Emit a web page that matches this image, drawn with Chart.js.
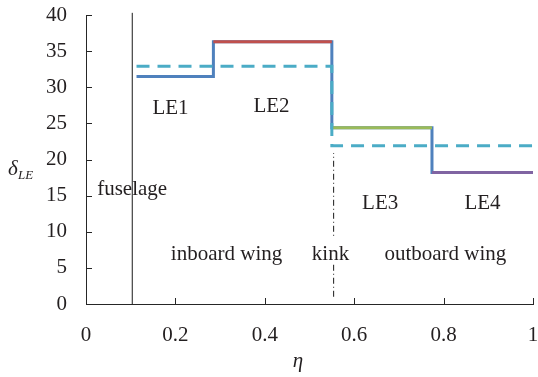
<!DOCTYPE html>
<html>
<head>
<meta charset="utf-8">
<script src="https://cdn.jsdelivr.net/npm/chart.js@4"></script>
<style>
  body { margin: 0; background: #fff; }
  #box { width: 538px; height: 377px; }
</style>
</head>
<body>
<div id="box"><canvas id="graph"></canvas></div>
<script>
// step distribution of leading edge deflection along the span
const stepEta   = [0.113, 0.285, 0.285, 0.55, 0.55, 0.774, 0.774, 1.0];
const stepDelta = [31.5, 31.5, 36.3, 36.3, 24.4, 24.4, 18.2, 18.2];

// coloured segments LE2, LE3, LE4
const le2Eta = [0.285, 0.55],  le2Delta = [36.3, 36.3];
const le3Eta = [0.55, 0.774],  le3Delta = [24.4, 24.4];
const le4Eta = [0.774, 1.0],   le4Delta = [18.2, 18.2];

// dashed (averaged) distribution
const dashEta   = [0.113, 0.55, 0.55, 1.0];
const dashDelta = [32.9, 32.9, 21.9, 21.9];

// reference lines
const fuselageEta = [0.1035, 0.1035], fuselageDelta = [0, 40.3];
const kinkEta = [0.554, 0.554],       kinkDelta = [1.0, 20.9];

// axis ticks
const yTicks = [0, 5, 10, 15, 20, 25, 30, 35, 40];
const xTicks = [0, 0.2, 0.4, 0.6, 0.8, 1];

// text labels inside the plot (eta, delta of baseline)
const noteText  = ["LE1", "LE2", "fuselage", "inboard wing", "kink", "LE3", "LE4", "outboard wing"];
const noteEta   = [0.189, 0.415, 0.1032, 0.3144, 0.547, 0.658, 0.887, 0.804];
const noteDelta = [26.3, 26.6, 15.1, 6.1, 6.1, 13.1, 13.1, 6.1];
const noteBoxed = [false, false, false, false, true, false, false, false];

const serif = "'Liberation Serif', 'Times New Roman', serif";
const ink = '#231f20';

function pts(xs, ys) {
    return xs.map((x, i) => ({x: x, y: ys[i]}));
}

function line(xs, ys, color, width, dash, order) {
    return {
        data: pts(xs, ys),
        showLine: true,
        borderColor: color,
        borderWidth: width,
        borderDash: dash,
        pointRadius: 0,
        pointHoverRadius: 0,
        fill: false,
        tension: 0,
        clip: false,
        borderCapStyle: 'butt',
        order: order,
    };
}

const extras = {
    id: 'extras',
    afterDraw(chart) {
        const c = chart.ctx;
        const sx = chart.scales.x, sy = chart.scales.y;
        c.save();
        // inward tick marks
        c.strokeStyle = '#262626';
        c.lineWidth = 1;
        c.beginPath();
        yTicks.forEach(v => {
            const p = Math.round(sy.getPixelForValue(v)) + 0.5;
            c.moveTo(sx.left, p);
            c.lineTo(sx.left + 6, p);
        });
        xTicks.forEach(v => {
            const p = Math.round(sx.getPixelForValue(v)) + 0.5;
            c.moveTo(p, sy.bottom);
            c.lineTo(p, sy.bottom - 6);
        });
        c.stroke();

        // notes
        c.font = '21px ' + serif;
        c.textAlign = 'center';
        c.textBaseline = 'alphabetic';
        noteText.forEach((t, i) => {
            const px = sx.getPixelForValue(noteEta[i]);
            const py = sy.getPixelForValue(noteDelta[i]);
            if (noteBoxed[i]) {
                const w = c.measureText(t).width;
                c.fillStyle = '#fff';
                c.fillRect(px - w / 2 - 2, py - 23, w + 4, 26);
            }
            c.fillStyle = ink;
            c.fillText(t, px, py);
        });

        // axis titles
        c.font = 'italic 21px ' + serif;
        c.fillText('\u03b7', 298, 367);
        c.textAlign = 'left';
        c.fillText('\u03b4', 8, 175);
        c.font = 'italic 13px ' + serif;
        c.fillText('LE', 18, 179);
        c.restore();
    }
};

const graph = document.getElementById('graph').getContext('2d');

let myChart = new Chart(graph, {
    type: 'scatter',
    data: {
        datasets: [
            line(stepEta, stepDelta, '#4F81BD', 3, [], 5),
            line(le2Eta, le2Delta, '#C0504D', 3, [], 4),
            line(le3Eta, le3Delta, '#9BBB59', 3, [], 3),
            line(le4Eta, le4Delta, '#8064A2', 3, [], 2),
            line(dashEta, dashDelta, '#4BACC6', 3, [13, 8], 1),
            line(fuselageEta, fuselageDelta, '#1a1a1a', 1, [], 0),
            line(kinkEta, kinkDelta, '#1a1a1a', 1, [6, 3, 1, 3], 0),
        ]
    },
    options: {
        responsive: true,
        maintainAspectRatio: false,
        animation: false,
        events: [],
        layout: {
            padding: {top: 15, right: 5, left: 0, bottom: 0},
        },
        plugins: {
            legend: {display: false},
            tooltip: {enabled: false},
        },
        scales: {
            x: {
                type: 'linear',
                min: 0,
                max: 1,
                afterBuildTicks: (s) => { s.ticks = xTicks.map(v => ({value: v})); },
                afterFit: (s) => {
                    s.height = 73;
                    s.paddingLeft = 0; s.paddingRight = 0;
                    s.paddingTop = 0; s.paddingBottom = 0;
                },
                grid: {display: false, drawTicks: false},
                border: {display: true, color: '#262626', width: 1},
                ticks: {
                    padding: 19,
                    color: ink,
                    font: {family: serif, size: 21},
                    maxRotation: 0,
                    callback: (v) => String(v),
                },
            },
            y: {
                type: 'linear',
                min: 0,
                max: 40,
                afterBuildTicks: (s) => { s.ticks = yTicks.map(v => ({value: v})); },
                afterFit: (s) => {
                    s.width = 86;
                    s.paddingLeft = 0; s.paddingRight = 0;
                    s.paddingTop = 0; s.paddingBottom = 0;
                },
                grid: {display: false, drawTicks: false},
                border: {display: true, color: '#262626', width: 1},
                ticks: {
                    padding: 19,
                    color: ink,
                    font: {family: serif, size: 21},
                    callback: (v) => String(v),
                },
            },
        },
    },
    plugins: [extras],
});
</script>
</body>
</html>
